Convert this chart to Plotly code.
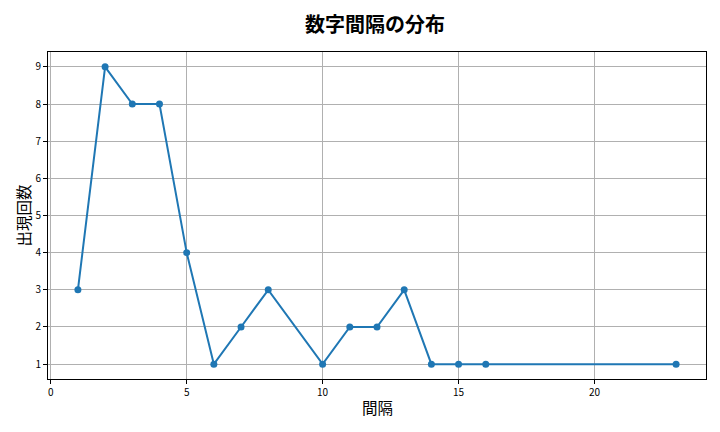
import plotly.graph_objects as go

gaps = [1, 2, 3, 4, 5, 6, 7, 8, 10, 11, 12, 13, 14, 15, 16, 23]
counts = [3, 9, 8, 8, 4, 1, 2, 3, 1, 2, 2, 3, 1, 1, 1, 1]
x_ticks = [0, 5, 10, 15, 20]
y_ticks = [1, 2, 3, 4, 5, 6, 7, 8, 9]

font = "Noto Sans CJK JP"

fig = go.Figure(go.Scatter(
    x=gaps, y=counts, mode="lines+markers",
    line=dict(color="#1f77b4", width=2),
    marker=dict(color="#1f77b4", size=7),
))

axis_common = dict(
    showline=True, linecolor="black", linewidth=1, mirror=True,
    showgrid=True, gridcolor="#b0b0b0", gridwidth=1,
    ticks="outside", ticklen=4, tickcolor="black",
    tickfont=dict(family=font, size=10, color="black"),
    zeroline=False, automargin=False,
)

# page has 8px body margin; compensate
plot_h = 327
plot_w = 658
fig.update_layout(
    width=720, height=432,
    margin=dict(l=40, r=22, t=44, b=61),
    plot_bgcolor="white", paper_bgcolor="white",
    showlegend=False,
    title=dict(text="<b>数字間隔の分布</b>", x=(375 - 8) / 720, xanchor="center",
               y=1 - 17 / 432, yanchor="middle",
               font=dict(family=font, size=20, color="black")),
    xaxis=dict(range=[-0.1, 24.1], tickvals=x_ticks, **axis_common),
    yaxis=dict(range=[0.6, 9.4], tickvals=y_ticks, **axis_common),
    annotations=[
        dict(text="間隔", xref="paper", yref="paper", x=0.5, y=-28 / plot_h,
             xanchor="center", yanchor="middle", showarrow=False,
             font=dict(family=font, size=15.5, color="black")),
        dict(text="出現回数", xref="paper", yref="paper", x=-26 / plot_w, y=0.5,
             xanchor="center", yanchor="middle", showarrow=False, textangle=-90,
             font=dict(family=font, size=15.5, color="black")),
    ],
)

fig.write_html("out.html")
